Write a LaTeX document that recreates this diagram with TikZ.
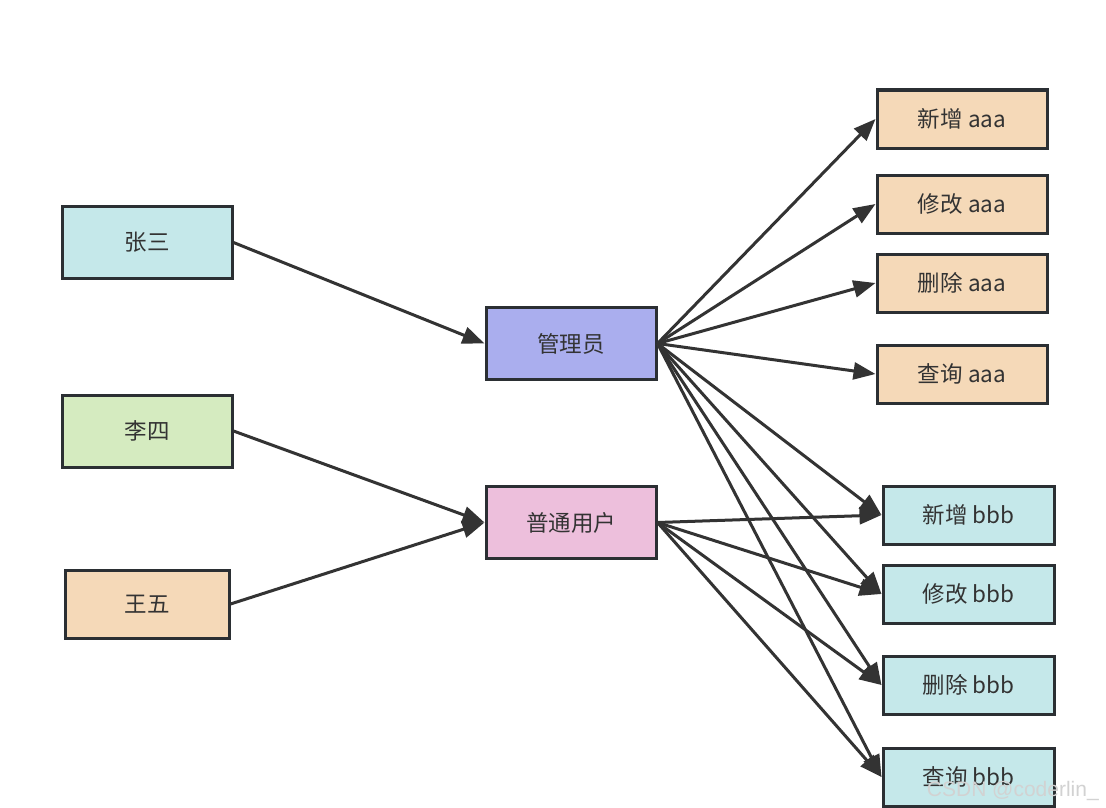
\documentclass[tikz,border=0pt]{standalone}
\usepackage{fontspec}
\setmainfont{Noto Sans CJK SC}
\newfontfamily\wmfont{Liberation Sans}
\usetikzlibrary{arrows.meta}
\definecolor{bordc}{HTML}{2B2F33}
\definecolor{linec}{HTML}{333333}
\definecolor{txtc}{HTML}{333333}
\definecolor{cyanf}{HTML}{C5E8EA}
\definecolor{greenf}{HTML}{D5EBC0}
\definecolor{peachf}{HTML}{F5D9B8}
\definecolor{bluef}{HTML}{AAAEEE}
\definecolor{pinkf}{HTML}{EDBFDC}
\begin{document}
\begin{tikzpicture}[x=1pt,y=-1pt,
  box/.style={draw=bordc,line width=3pt,text=txtc,inner sep=0pt,
    font=\fontsize{22.5}{26}\selectfont},
  bigbox/.style={box,minimum width=170pt,minimum height=72pt},
  smallbox/.style={box,minimum width=170pt,minimum height=58pt},
  conn/.style={draw=linec,line width=3pt,-{Triangle[length=22pt,width=17pt]}}]
\useasboundingbox (0,0) rectangle (1106,808);
\fill[white] (0,0) rectangle (1106,808);
\node[bigbox,fill=cyanf] (zs) at (147,242.5) {张三};
\node[bigbox,fill=greenf] (ls) at (147,431) {李四};
\node[bigbox,fill=peachf,minimum width=164pt,minimum height=68pt] (ww) at (147,604) {王五};
\node[bigbox,fill=bluef] (admin) at (571,343.5) {管理员};
\node[bigbox,fill=pinkf] (user) at (571,522.5) {普通用户};
\node[smallbox,fill=peachf] (xa) at (962,119) {新增 aaa};
\node[smallbox,fill=peachf] (ga) at (962,204) {修改 aaa};
\node[smallbox,fill=peachf] (sa) at (962,283) {删除 aaa};
\node[smallbox,fill=peachf] (ca) at (962,374) {查询 aaa};
\node[smallbox,fill=cyanf,minimum width=171pt] (xb) at (968.5,515) {新增 bbb};
\node[smallbox,fill=cyanf,minimum width=171pt] (gb) at (968.5,594) {修改 bbb};
\node[smallbox,fill=cyanf,minimum width=171pt] (sb) at (968.5,685) {删除 bbb};
\node[smallbox,fill=cyanf,minimum width=171pt] (cb) at (968.5,777) {查询 bbb};
\draw[conn] (zs.east) -- (admin.west);
\draw[conn] (ls.east) -- (user.west);
\draw[conn] (ww.east) -- (user.west);
\foreach \t in {xa,ga,sa,ca,xb,gb,sb,cb}{
  \draw[conn] (admin.east) -- (\t.west);
}
\foreach \t in {xb,gb,sb,cb}{
  \draw[conn] (user.east) -- (\t.west);
}
\node[text=gray!35,font=\wmfont\fontsize{21}{24}\selectfont,anchor=east,inner sep=0pt] (wm) at (1099,791) {CSDN @coderlin\_};
\end{tikzpicture}
\end{document}
